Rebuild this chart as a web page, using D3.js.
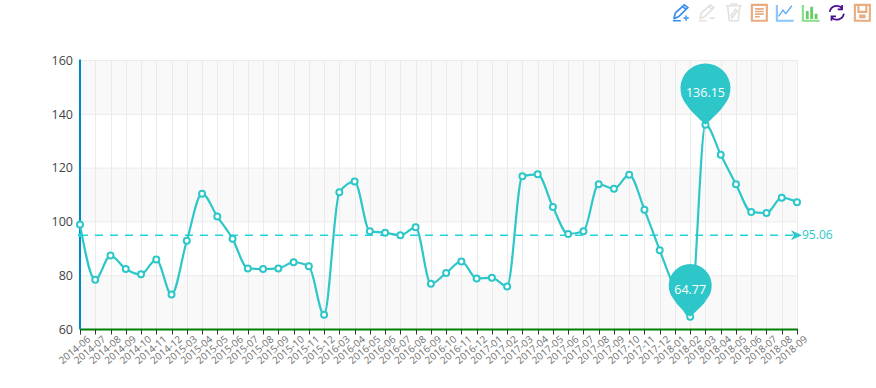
<!DOCTYPE html>
<html>
<head>
<meta charset="utf-8">
<script src="https://cdn.jsdelivr.net/npm/d3@7"></script>
<style>
  html, body { margin: 0; padding: 0; background: #fff; }
  svg { display: block; font-family: "Open Sans", sans-serif; }
  .y-label { font-size: 12.5px; fill: #444; }
  .x-label { font-size: 10px; fill: #6e6e6e; }
</style>
</head>
<body>
<div id="chart"></div>
<script>
const months = [
  "2014-06", "2014-07", "2014-08", "2014-09", "2014-10", "2014-11", "2014-12",
  "2015-03", "2015-04", "2015-05", "2015-06", "2015-07", "2015-08", "2015-09", "2015-10", "2015-11", "2015-12",
  "2016-03", "2016-04", "2016-05", "2016-06", "2016-07", "2016-08", "2016-09", "2016-10", "2016-11", "2016-12",
  "2017-01", "2017-02", "2017-03", "2017-04", "2017-05", "2017-06", "2017-07", "2017-08", "2017-09", "2017-10", "2017-11", "2017-12",
  "2018-01", "2018-02", "2018-03", "2018-04", "2018-05", "2018-06", "2018-07", "2018-08", "2018-09"
];
const values = [
  99, 78.5, 87.5, 82.5, 80.5, 86, 73,
  93, 110.5, 102, 93.7, 82.7, 82.5, 82.7, 85, 83.5, 65.5,
  111, 115, 96.5, 96, 95, 98, 77, 81, 85.3, 79,
  79.2, 76, 117, 117.7, 105.5, 95.5, 96.5, 114, 112.3, 117.5, 104.5, 89.5,
  75, 64.77, 136.15, 125, 114, 103.7, 103.3, 109, 107.3
];
const yTicks = [60, 80, 100, 120, 140, 160];
const meanValue = 95.06;
const maxMonth = "2018-03", maxValue = 136.15;
const minMonth = "2018-02", minValue = 64.77;

const LINE_COLOR = "#2ec7c9";
const MEAN_COLOR = "#22d3dc";

const totalW = 876, totalH = 388;
const margin = { top: 60.5, right: 79, bottom: 58.5, left: 80 };
const width = totalW - margin.left - margin.right;
const height = totalH - margin.top - margin.bottom;

const svg = d3.select("#chart").append("svg")
  .attr("width", totalW)
  .attr("height", totalH);

const g = svg.append("g")
  .attr("transform", `translate(${margin.left},${margin.top})`);

const x = d3.scalePoint().domain(months).range([0, width]);
const y = d3.scaleLinear().domain([60, 160]).range([height, 0]);

// keep the thin lines on whole pixels so they stay crisp
const snapX = d => Math.round(x(d)) + 0.5;

// alternating bands, top one shaded
d3.pairs(yTicks).forEach(([lo, hi], i) => {
  if (i % 2 === 0) {
    g.append("rect")
      .attr("x", 0).attr("width", width)
      .attr("y", y(hi)).attr("height", y(lo) - y(hi))
      .attr("fill", "#f9f9f9");
  }
});

// grid lines
g.append("g").selectAll("line").data(months).join("line")
  .attr("x1", snapX).attr("x2", snapX)
  .attr("y1", 0).attr("y2", height)
  .attr("stroke", "#ebebeb");
g.append("g").selectAll("line").data(yTicks).join("line")
  .attr("x1", 0).attr("x2", width)
  .attr("y1", d => y(d)).attr("y2", d => y(d))
  .attr("stroke", "#ebebeb");

// x axis
g.append("line")
  .attr("x1", 0).attr("x2", width + 1)
  .attr("y1", height).attr("y2", height)
  .attr("stroke", "#008000").attr("stroke-width", 2);
g.append("g").selectAll("line").data(months).join("line")
  .attr("x1", snapX).attr("x2", snapX)
  .attr("y1", height).attr("y2", height + 5)
  .attr("stroke", "#333");
g.append("g").selectAll("text").data(months).join("text")
  .attr("class", "x-label")
  .attr("text-anchor", "end")
  .attr("transform", d => `translate(${x(d) + 8},${height + 7}) rotate(-40)`)
  .attr("dy", "0.5em")
  .text(d => d);

// y axis
g.append("line")
  .attr("x1", 0).attr("x2", 0)
  .attr("y1", -1).attr("y2", height)
  .attr("stroke", "#0088cc").attr("stroke-width", 2);
g.append("g").selectAll("text").data(yTicks).join("text")
  .attr("class", "y-label")
  .attr("x", -7)
  .attr("y", d => y(d))
  .attr("dy", "0.35em")
  .attr("text-anchor", "end")
  .text(d => d);

// mean line
g.append("line")
  .attr("x1", 0).attr("x2", width - 3)
  .attr("y1", y(meanValue)).attr("y2", y(meanValue))
  .attr("stroke", MEAN_COLOR).attr("stroke-width", 1.5)
  .attr("stroke-dasharray", "8 7");
g.append("circle")
  .attr("cx", 0).attr("cy", y(meanValue)).attr("r", 2)
  .attr("fill", MEAN_COLOR);
g.append("path")
  .attr("transform", `translate(${width + 5},${y(meanValue)})`)
  .attr("d", "M0,0L-11,-5L-8,0L-11,5Z")
  .attr("fill", LINE_COLOR);
g.append("text")
  .attr("x", width + 5)
  .attr("y", y(meanValue))
  .attr("dy", "0.35em")
  .attr("font-size", 12)
  .attr("fill", LINE_COLOR)
  .text(meanValue);

// series
const line = d3.line()
  .x((d, i) => x(months[i]))
  .y(d => y(d))
  .curve(d3.curveMonotoneX);

g.append("path")
  .attr("d", line(values))
  .attr("fill", "none")
  .attr("stroke", LINE_COLOR)
  .attr("stroke-width", 2.2);

g.append("g").selectAll("circle").data(values).join("circle")
  .attr("cx", (d, i) => x(months[i]))
  .attr("cy", d => y(d))
  .attr("r", 3)
  .attr("fill", "#fff")
  .attr("stroke", LINE_COLOR)
  .attr("stroke-width", 2);

// pins
function drawPin(month, value, r) {
  const px = x(month), py = y(value);
  const tip = r * 1.45;
  const cy = py - tip;
  const a = 0.72;
  const sx = r * Math.cos(a), sy = r * Math.sin(a);
  const pin = g.append("g").attr("transform", `translate(${px},${cy})`);
  pin.append("path")
    .attr("d", `M0,${tip}C${-sx * 0.35},${r * 1.2} ${-sx * 0.8},${sy + 6} ${-sx},${sy}A${r},${r} 0 1 1 ${sx},${sy}C${sx * 0.8},${sy + 6} ${sx * 0.35},${r * 1.2} 0,${tip}Z`)
    .attr("fill", LINE_COLOR);
  pin.append("text")
    .attr("text-anchor", "middle")
    .attr("y", 4.5)
    .attr("dy", "0.35em")
    .attr("font-size", 12.5)
    .attr("font-weight", 500)
    .attr("fill", "#fff")
    .text(value);
}
drawPin(maxMonth, maxValue, 25);
drawPin(minMonth, minValue, 21.5);

// toolbox icons
const tools = svg.append("g").attr("fill", "none").attr("stroke-width", 1.9);
const icon = (tx, color, d, sw) => tools.append("path")
  .attr("transform", `translate(${tx},4) scale(0.88)`)
  .attr("stroke", color)
  .attr("stroke-width", sw || null)
  .attr("d", d);
icon(672, "#3a8ef0", "M2,17L4,10L14,1L18,4L8,14L2,17M12,3L16,6M1,19H10");
icon(672, "#5aa9ff", "M13,16H19M16,13V19", 2.2);
icon(698, "#e2e2e2", "M2,17L4,10L14,1L18,4L8,14L2,17M12,3L16,6M13,16H19M1,19H10");
icon(725, "#e2e2e2", "M1,2H19M7,2V0H13V2M3,2L5,19H15L17,2M8,16L14,8L12,6L7,13Z");
icon(751, "#e8ac80", "M1,1H18V19H1Z", 2.4);
icon(751, "#e8ac80", "M4.5,5.5H14.5M4.5,8.5H14.5M4.5,11.5H14.5M4.5,14.5H10");
icon(776, "#8cc4ff", "M1,1V19H20", 2.4);
icon(776, "#5aa9ff", "M3,14L8,7L11,11L18,2", 1.5);
icon(802, "#88dd88", "M1,1V19H20", 2.4);
icon(802, "#66cc66", "M6,17V8M11,17V3M16,17V11", 3.2);
icon(828, "#4b0f8f", "M2,9A8,8 0 0 1 16,5M18,11A8,8 0 0 1 4,15M16,1V6H11M4,19V14H9", 2);
icon(854, "#e8ac80", "M1,1H18V19H1ZM5,1V9H14V1M7,13H12V15H7Z", 2.4);
</script>
</body>
</html>
